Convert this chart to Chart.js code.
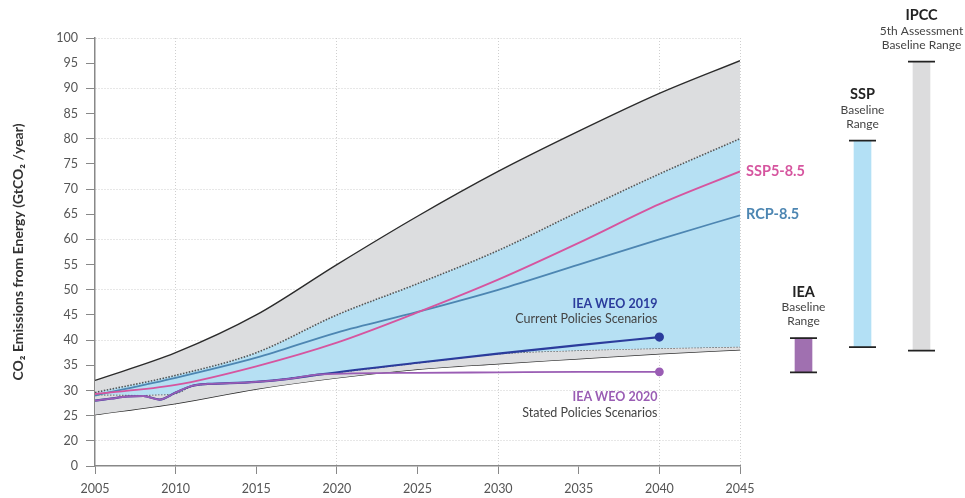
<!DOCTYPE html>
<html>
<head>
<meta charset="utf-8">
<script src="https://cdn.jsdelivr.net/npm/chart.js@4.4.0/dist/chart.umd.min.js"></script>
<style>
  html, body { margin: 0; padding: 0; background: #fff; }
  #wrap { position: relative; width: 965px; height: 498px; }
  #mainChart { position: absolute; left: 0; top: 0; }
  #rangeChart { position: absolute; left: 760px; top: 0; }
</style>
</head>
<body>
<div id="wrap">
  <canvas id="mainChart" width="965" height="498"></canvas>
  <canvas id="rangeChart" width="205" height="498"></canvas>
</div>
<script>
// ---- data (GtCO2 / year) ----
const bandYears = [2005, 2010, 2015, 2020, 2025, 2030, 2035, 2040, 2045];
const ipccHigh = [32, 37.5, 45, 55, 64.6, 73.5, 81.5, 89, 95.5];
const ipccLow = [25.2, 27.4, 30.3, 32.5, 34.2, 35.3, 36.3, 37.3, 38.1];
const sspHigh = [29.6, 33, 37.5, 45, 51.2, 57.8, 65.5, 73, 80];

const sspLowYears = [2005, 2008, 2009, 2010, 2011, 2012, 2015, 2020, 2025, 2030, 2035, 2040, 2045];
const sspLow = [29.2, 29.1, 29.2, 29.4, 30.9, 31.3, 31.8, 33.6, 35.5, 37.3, 38.0, 38.4, 38.7];

const ssp585 = [29.3, 31.1, 34.8, 39.5, 45.5, 52, 59.3, 67, 73.5];
const rcp85 = [29.0, 32.5, 36.5, 41.5, 45.6, 50, 55, 60, 64.8];

const ieaYears = [2005, 2006, 2007, 2008, 2009, 2010, 2011, 2012, 2013, 2015, 2017, 2019, 2025, 2030, 2035, 2040];
const weo2019 = [28.0, 28.4, 28.8, 28.9, 28.2, 29.6, 30.9, 31.3, 31.4, 31.7, 32.3, 33.2, 35.5, 37.3, 39.0, 40.6];
const weo2020 = [28.0, 28.4, 28.8, 28.9, 28.2, 29.6, 30.9, 31.3, 31.4, 31.7, 32.3, 33.2, 33.5, 33.6, 33.7, 33.7];

// baseline range bars on the right
const rangeNames = ['IEA', 'SSP', 'IPCC'];
const rangeSubs = [['Baseline', 'Range'], ['Baseline', 'Range'], ['5th Assessment', 'Baseline Range']];
const rangeLow = [33.6, 38.6, 37.9];
const rangeHigh = [40.4, 79.6, 95.3];

const FONT = "Lato, 'Open Sans', sans-serif";
Chart.defaults.font.family = FONT;

const pink = '#d6559f';
const steel = '#4d86b2';
const navy = '#2b3c9c';
const violet = '#9a5db4';

const pts = (xs, ys) => xs.map((x, i) => ({ x: x, y: ys[i] }));

// the axis is broken: "0" sits one step below 20
const yLabel = v => (v === 15 ? '0' : String(v));

const noteLabels = [
  { lines: [['SSP5-8.5', 'bold 14.5px ' + FONT, pink]], x: 2045, y: 73.6, align: 'left', dx: 6 },
  { lines: [['RCP-8.5', 'bold 14.5px ' + FONT, steel]], x: 2045, y: 65, align: 'left', dx: 6 },
  { lines: [['IEA WEO 2019', 'bold 12.5px ' + FONT, navy], ['Current Policies Scenarios', '12.5px ' + FONT, '#444']], x: 2040, y: 47.2, align: 'right', dx: -2 },
  { lines: [['IEA WEO 2020', 'bold 12.5px ' + FONT, violet], ['Stated Policies Scenarios', '12.5px ' + FONT, '#444']], x: 2040, y: 28.7, align: 'right', dx: -2 }
];

const notesPlugin = {
  id: 'notes',
  afterDatasetsDraw(chart) {
    const { ctx, scales: { x, y } } = chart;
    ctx.save();
    ctx.textBaseline = 'middle';
    noteLabels.forEach(n => {
      const px = x.getPixelForValue(n.x) + n.dx;
      let py = y.getPixelForValue(n.y);
      ctx.textAlign = n.align;
      n.lines.forEach(([t, f, c]) => {
        ctx.font = f;
        ctx.fillStyle = c;
        ctx.fillText(t, px, py);
        py += 15.5;
      });
    });
    ctx.restore();
  }
};

const lineDs = (label, xs, ys, color, width, endDot) => ({
  label: label,
  data: pts(xs, ys),
  borderColor: color,
  backgroundColor: color,
  borderWidth: width,
  cubicInterpolationMode: 'monotone',
  pointRadius: ctx => (endDot && ctx.dataIndex === ys.length - 1 ? 3.5 : 0),
  fill: false
});

const mainChart = new Chart(document.getElementById('mainChart'), {
  type: 'line',
  data: {
    datasets: [
      lineDs('SSP5-8.5', bandYears, ssp585, pink, 1.8, false),
      lineDs('RCP-8.5', bandYears, rcp85, steel, 1.8, false),
      lineDs('IEA WEO 2020', ieaYears, weo2020, violet, 1.8, true),
      lineDs('IEA WEO 2019', ieaYears, weo2019, navy, 2.2, true),
      {
        label: 'SSP high',
        data: pts(bandYears, sspHigh),
        borderColor: '#555',
        borderWidth: 1.6,
        borderDash: [1.5, 1.5],
        backgroundColor: '#b6e0f3',
        pointRadius: 0,
        cubicInterpolationMode: 'monotone',
        fill: '+1'
      },
      {
        label: 'SSP low',
        data: pts(sspLowYears, sspLow),
        borderColor: '#555',
        borderWidth: 1.6,
        borderDash: [1.5, 1.5],
        pointRadius: 0,
        cubicInterpolationMode: 'monotone',
        fill: false
      },
      {
        label: 'IPCC high',
        data: pts(bandYears, ipccHigh),
        borderColor: '#2b2b2b',
        borderWidth: 1.4,
        backgroundColor: '#dcdddf',
        pointRadius: 0,
        cubicInterpolationMode: 'monotone',
        fill: '+1'
      },
      {
        label: 'IPCC low',
        data: pts(bandYears, ipccLow),
        borderColor: '#2b2b2b',
        borderWidth: 1.4,
        pointRadius: 0,
        cubicInterpolationMode: 'monotone',
        fill: false
      }
    ]
  },
  options: {
    responsive: false,
    animation: false,
    layout: { padding: { top: 38, right: 225, left: 0, bottom: 0 } },
    plugins: { legend: { display: false }, tooltip: { enabled: false } },
    scales: {
      x: {
        type: 'linear',
        min: 2005,
        max: 2045,
        afterFit: s => { s.height = 32; },
        ticks: { stepSize: 5, color: '#555', font: { size: 12.5 }, padding: 7, callback: v => String(v) },
        grid: {
          color: c => ([2010, 2020, 2030, 2040, 2045].includes(c.tick && c.tick.value) ? '#cfcfcf' : 'transparent'),
          tickColor: '#888',
          tickLength: 8,
          lineWidth: 1
        },
        border: { color: '#888', width: 1.5, dash: [1, 2] }
      },
      y: {
        min: 15,
        max: 100,
        afterFit: s => { s.width = 95; },
        ticks: { stepSize: 5, color: '#555', font: { size: 12.5 }, padding: 8, callback: v => yLabel(v) },
        grid: {
          color: c => (c.tick && c.tick.value >= 20 && c.tick.value % 10 === 0 ? '#cfcfcf' : 'transparent'),
          tickColor: '#888',
          tickLength: 9,
          lineWidth: 1
        },
        border: { color: '#888', width: 1.5, dash: [1, 2] },
        title: {
          display: true,
          text: 'CO\u2082 Emissions from Energy (GtCO\u2082 /year)',
          color: '#333',
          font: { size: 14, weight: 'bold' },
          padding: { top: 10, bottom: 4 }
        }
      }
    }
  },
  plugins: [notesPlugin]
});

// ---- right-hand baseline range bars, same value scale ----
const area = mainChart.chartArea;

const capsPlugin = {
  id: 'caps',
  afterDatasetsDraw(chart) {
    const { ctx, scales: { y } } = chart;
    const meta = chart.getDatasetMeta(0);
    ctx.save();
    ctx.strokeStyle = '#222';
    ctx.lineWidth = 1.8;
    ctx.textAlign = 'center';
    ctx.textBaseline = 'middle';
    meta.data.forEach((bar, i) => {
      const top = y.getPixelForValue(rangeHigh[i]);
      const bot = y.getPixelForValue(rangeLow[i]);
      ctx.beginPath();
      ctx.moveTo(bar.x - 13.5, top); ctx.lineTo(bar.x + 13.5, top);
      ctx.moveTo(bar.x - 13.5, bot); ctx.lineTo(bar.x + 13.5, bot);
      ctx.stroke();
      ctx.fillStyle = '#222';
      ctx.font = 'bold 14.5px ' + FONT;
      ctx.fillText(rangeNames[i], bar.x, top - 46);
      ctx.fillStyle = '#444';
      ctx.font = '12px ' + FONT;
      ctx.fillText(rangeSubs[i][0], bar.x, top - 31);
      ctx.fillText(rangeSubs[i][1], bar.x, top - 17);
    });
    ctx.restore();
  }
};

new Chart(document.getElementById('rangeChart'), {
  type: 'bar',
  data: {
    labels: rangeNames,
    datasets: [{
      data: rangeNames.map((n, i) => [rangeLow[i], rangeHigh[i]]),
      backgroundColor: ['#a070b0', '#b3e0f5', '#dcdcdd'],
      barThickness: 17,
      borderWidth: 0
    }]
  },
  options: {
    responsive: false,
    animation: false,
    layout: { padding: { top: area.top, bottom: 498 - area.bottom, left: 14, right: 14 } },
    plugins: { legend: { display: false }, tooltip: { enabled: false } },
    scales: {
      x: { display: false },
      y: { display: false, min: 15, max: 100 }
    }
  },
  plugins: [capsPlugin]
});
</script>
</body>
</html>
